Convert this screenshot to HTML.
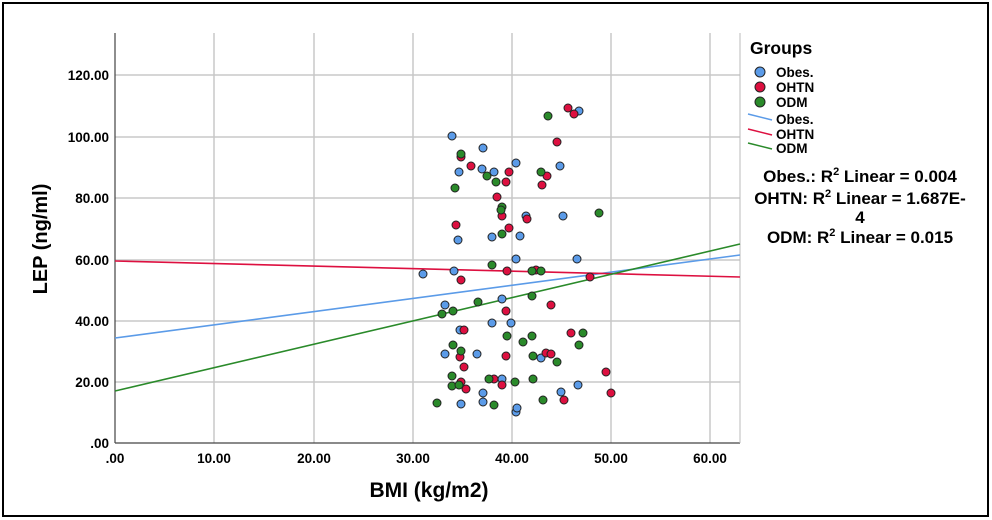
<!DOCTYPE html><html><head><style>body{margin:0;background:#fff}svg{display:block}text{font-family:"Liberation Sans",Arial,sans-serif;font-weight:bold}</style></head><body>
<svg width="992" height="520" xmlns="http://www.w3.org/2000/svg">
<rect x="3" y="3" width="985" height="513" fill="#fff" stroke="#000" stroke-width="2"/>
<g stroke="#c8c8c8" stroke-width="1.5">
<line x1="214" y1="33" x2="214" y2="443"/><line x1="314" y1="33" x2="314" y2="443"/><line x1="413" y1="33" x2="413" y2="443"/><line x1="512" y1="33" x2="512" y2="443"/><line x1="611" y1="33" x2="611" y2="443"/><line x1="710" y1="33" x2="710" y2="443"/>
<line x1="115" y1="382" x2="740" y2="382"/><line x1="115" y1="321" x2="740" y2="321"/><line x1="115" y1="260" x2="740" y2="260"/><line x1="115" y1="198" x2="740" y2="198"/><line x1="115" y1="137" x2="740" y2="137"/><line x1="115" y1="75" x2="740" y2="75"/>
</g>
<line x1="115" y1="33" x2="115" y2="443" stroke="#444" stroke-width="1.2"/>
<line x1="115" y1="443" x2="740" y2="443" stroke="#444" stroke-width="1.2"/>
<line x1="740" y1="33" x2="740" y2="443" stroke="#bbb" stroke-width="1"/>
<g font-size="13.5" text-anchor="end">
<text x="109" y="448">.00</text><text x="109" y="387">20.00</text><text x="109" y="326">40.00</text><text x="109" y="265">60.00</text><text x="109" y="203">80.00</text><text x="109" y="142">100.00</text><text x="109" y="80">120.00</text></g>
<g font-size="13.5" text-anchor="middle">
<text x="115" y="463">.00</text><text x="214" y="463">10.00</text><text x="314" y="463">20.00</text><text x="413" y="463">30.00</text><text x="512" y="463">40.00</text><text x="611" y="463">50.00</text><text x="710" y="463">60.00</text></g>
<text x="429" y="497" font-size="21" text-anchor="middle">BMI (kg/m2)</text>
<text transform="translate(47,239) rotate(-90)" font-size="20" text-anchor="middle">LEP (ng/ml)</text>
<line x1="115" y1="338" x2="740" y2="255" stroke="#5b9be8" stroke-width="1.6"/>
<line x1="115" y1="261" x2="740" y2="277" stroke="#dd1040" stroke-width="1.6"/>
<line x1="115" y1="391" x2="740" y2="244" stroke="#2a8a2a" stroke-width="1.6"/>
<g stroke="#222" stroke-width="1" >
<g fill="#5b9be8">
<circle cx="579" cy="111" r="4"/><circle cx="452" cy="136" r="4"/><circle cx="483" cy="148" r="4"/><circle cx="516" cy="163" r="4"/><circle cx="459" cy="172" r="4"/><circle cx="482" cy="169" r="4"/><circle cx="494" cy="172" r="4"/><circle cx="560" cy="166" r="4"/><circle cx="526" cy="216" r="4"/><circle cx="563" cy="216" r="4"/><circle cx="458" cy="240" r="4"/><circle cx="492" cy="237" r="4"/><circle cx="520" cy="236" r="4"/><circle cx="516" cy="259" r="4"/><circle cx="577" cy="259" r="4"/><circle cx="423" cy="274" r="4"/><circle cx="454" cy="271" r="4"/><circle cx="445" cy="305" r="4"/><circle cx="502" cy="299" r="4"/><circle cx="492" cy="323" r="4"/><circle cx="511" cy="323" r="4"/><circle cx="460" cy="330" r="4"/><circle cx="445" cy="354" r="4"/><circle cx="477" cy="354" r="4"/><circle cx="541" cy="358" r="4"/><circle cx="502" cy="379" r="4"/><circle cx="578" cy="385" r="4"/><circle cx="561" cy="392" r="4"/><circle cx="483" cy="393" r="4"/><circle cx="483" cy="402" r="4"/><circle cx="461" cy="404" r="4"/><circle cx="516" cy="412" r="4"/><circle cx="517" cy="408" r="4"/></g>
<g fill="#dd1040">
<circle cx="568" cy="108" r="4"/><circle cx="574" cy="114" r="4"/><circle cx="557" cy="142" r="4"/><circle cx="461" cy="157" r="4"/><circle cx="471" cy="166" r="4"/><circle cx="509" cy="172" r="4"/><circle cx="547" cy="176" r="4"/><circle cx="506" cy="182" r="4"/><circle cx="542" cy="185" r="4"/><circle cx="497" cy="197" r="4"/><circle cx="502" cy="216" r="4"/><circle cx="527" cy="219" r="4"/><circle cx="456" cy="225" r="4"/><circle cx="509" cy="228" r="4"/><circle cx="507" cy="271" r="4"/><circle cx="536" cy="270" r="4"/><circle cx="461" cy="280" r="4"/><circle cx="590" cy="277" r="4"/><circle cx="551" cy="305" r="4"/><circle cx="506" cy="311" r="4"/><circle cx="464" cy="330" r="4"/><circle cx="571" cy="333" r="4"/><circle cx="460" cy="357" r="4"/><circle cx="506" cy="356" r="4"/><circle cx="546" cy="353" r="4"/><circle cx="551" cy="354" r="4"/><circle cx="464" cy="367" r="4"/><circle cx="461" cy="382" r="4"/><circle cx="466" cy="389" r="4"/><circle cx="494" cy="379" r="4"/><circle cx="502" cy="385" r="4"/><circle cx="606" cy="372" r="4"/><circle cx="611" cy="393" r="4"/><circle cx="564" cy="400" r="4"/></g>
<g fill="#2a8a2a">
<circle cx="548" cy="116" r="4"/><circle cx="461" cy="154" r="4"/><circle cx="487" cy="176" r="4"/><circle cx="541" cy="172" r="4"/><circle cx="496" cy="182" r="4"/><circle cx="455" cy="188" r="4"/><circle cx="502" cy="207" r="4"/><circle cx="501" cy="210" r="4"/><circle cx="599" cy="213" r="4"/><circle cx="502" cy="234" r="4"/><circle cx="492" cy="265" r="4"/><circle cx="532" cy="271" r="4"/><circle cx="541" cy="271" r="4"/><circle cx="478" cy="302" r="4"/><circle cx="532" cy="296" r="4"/><circle cx="442" cy="314" r="4"/><circle cx="453" cy="311" r="4"/><circle cx="507" cy="336" r="4"/><circle cx="523" cy="342" r="4"/><circle cx="532" cy="336" r="4"/><circle cx="583" cy="333" r="4"/><circle cx="579" cy="345" r="4"/><circle cx="453" cy="345" r="4"/><circle cx="461" cy="351" r="4"/><circle cx="533" cy="356" r="4"/><circle cx="557" cy="362" r="4"/><circle cx="452" cy="376" r="4"/><circle cx="452" cy="386" r="4"/><circle cx="459" cy="385" r="4"/><circle cx="489" cy="379" r="4"/><circle cx="515" cy="382" r="4"/><circle cx="533" cy="379" r="4"/><circle cx="543" cy="400" r="4"/><circle cx="494" cy="405" r="4"/><circle cx="437" cy="403" r="4"/></g>
</g>
<text x="750" y="54" font-size="17.5">Groups</text>
<g stroke="#222" stroke-width="1"><circle cx="760" cy="72" r="5" fill="#5b9be8"/><circle cx="760" cy="87" r="5" fill="#dd1040"/><circle cx="760" cy="102" r="5" fill="#2a8a2a"/></g>
<line x1="748" y1="114" x2="772" y2="120" stroke="#5b9be8" stroke-width="1.5"/>
<line x1="748" y1="129" x2="772" y2="135" stroke="#dd1040" stroke-width="1.5"/>
<line x1="748" y1="143" x2="772" y2="149" stroke="#2a8a2a" stroke-width="1.5"/>
<g font-size="13.5"><text x="776" y="77">Obes.</text><text x="776" y="92">OHTN</text><text x="776" y="107">ODM</text><text x="776" y="124">Obes.</text><text x="776" y="139">OHTN</text><text x="776" y="153">ODM</text></g>
<g font-size="17" text-anchor="middle">
<text x="860" y="182">Obes.: R<tspan font-size="11" dy="-7">2</tspan><tspan dy="7"> Linear = 0.004</tspan></text>
<text x="860" y="204">OHTN: R<tspan font-size="11" dy="-7">2</tspan><tspan dy="7"> Linear = 1.687E-</tspan></text>
<text x="860" y="223">4</text>
<text x="860" y="243">ODM: R<tspan font-size="11" dy="-7">2</tspan><tspan dy="7"> Linear = 0.015</tspan></text>
</g>
</svg></body></html>
